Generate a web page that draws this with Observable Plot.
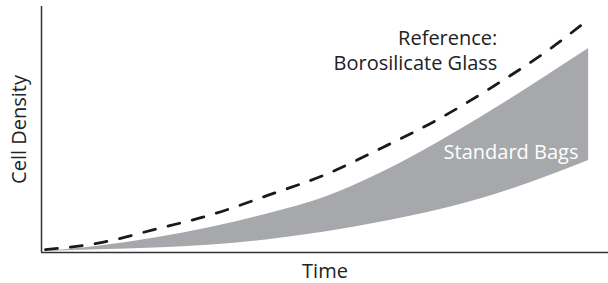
<!DOCTYPE html>
<html>
<head>
<meta charset="utf-8">
<script src="https://cdn.jsdelivr.net/npm/d3@7"></script>
<script src="https://cdn.jsdelivr.net/npm/@observablehq/plot@0.6"></script>
<style>
  html, body { margin: 0; padding: 0; background: #fff; }
  #chart svg { display: block; }
</style>
</head>
<body>
<div id="chart"></div>
<script>
// Shared time points (arbitrary units, 0–100)
const time = [0.7, 10, 20, 30, 40, 50, 60, 70, 80, 90, 96.5];
// Standard Bags band: upper and lower bounds (cell density, arbitrary units)
const bagsUpper = [0.4, 2.5, 5.9, 10.3, 15.8, 22.5, 32.5, 44.8, 58.5, 73.2, 82.9];
const bagsLower = [0.4, 1.1, 1.8, 3.0, 5.2, 8.3, 12.4, 17.3, 23.6, 31.6, 37.4];
// Reference: borosilicate glass
const glassTime = [0.7, 10, 20, 30, 40, 50, 60, 70, 80, 90, 96.6];
const glassDensity = [1.2, 3.8, 9.4, 15.4, 23.3, 31.6, 42.5, 54.2, 68.0, 83.3, 95.0];

const bands = time.map((t, i) => ({t, lo: bagsLower[i], hi: bagsUpper[i]}));
const glass = glassTime.map((t, i) => ({t, v: glassDensity[i]}));

const font = "'Open Sans', 'Noto Sans', sans-serif";
const txt = {fontSize: 20, fontWeight: 400, letterSpacing: "0.3px"};

const chart = Plot.plot({
  width: 608,
  height: 283,
  marginLeft: 41,
  marginRight: 0,
  marginTop: 6,
  marginBottom: 31,
  x: {domain: [0, 100], axis: null},
  y: {domain: [0, 100], axis: null},
  style: {fontFamily: font, background: "#fff"},
  marks: [
    Plot.areaY(bands, {x: "t", y1: "lo", y2: "hi", fill: "#a7a8ab", curve: "monotone-x"}),
    Plot.line(glass, {x: "t", y: "v", stroke: "#1a1a1a", strokeWidth: 2.8, strokeDasharray: "12,13", curve: "monotone-x"}),
    Plot.ruleX([0], {stroke: "#333", strokeWidth: 1.5}),
    Plot.ruleY([0], {stroke: "#333", strokeWidth: 1.5}),
    Plot.text(["Reference:"], {x: 80.4, y: 86.8, text: d => d, textAnchor: "end", lineAnchor: "middle", ...txt, fill: "#222"}),
    Plot.text(["Borosilicate Glass"], {x: 80.4, y: 76.7, text: d => d, textAnchor: "end", lineAnchor: "middle", ...txt, fill: "#222"}),
    Plot.text(["Standard Bags"], {x: 94.7, y: 40.5, text: d => d, textAnchor: "end", lineAnchor: "middle", ...txt, fill: "#fff"}),
    Plot.text(["Time"], {frameAnchor: "bottom", text: d => d, textAnchor: "middle", lineAnchor: "middle", dy: 18.6, ...txt, fill: "#222"}),
    Plot.text(["Cell Density"], {frameAnchor: "left", text: d => d, rotate: -90, textAnchor: "middle", lineAnchor: "middle", dx: -22.4, ...txt, fill: "#222"})
  ]
});
document.getElementById("chart").appendChild(chart);
</script>
</body>
</html>
